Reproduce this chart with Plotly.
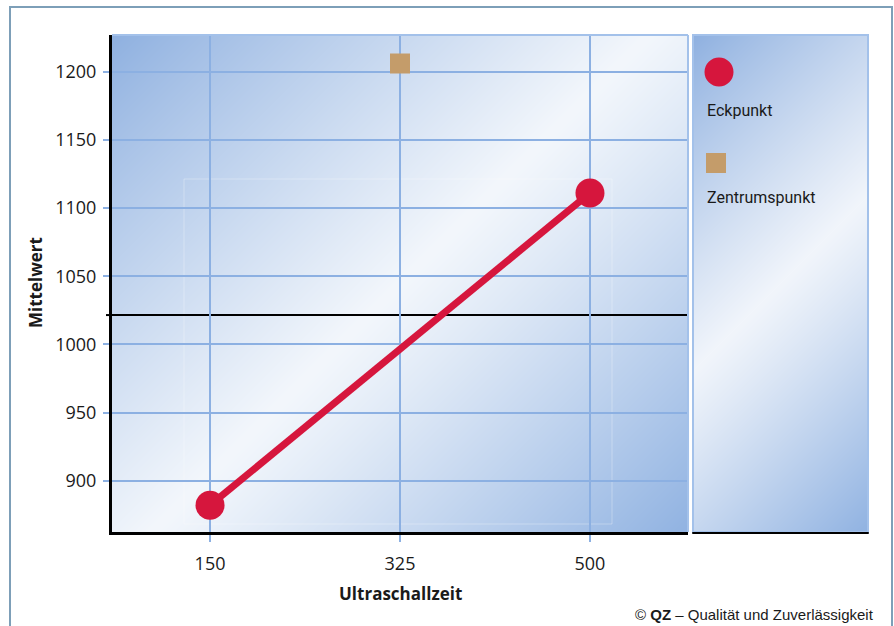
import base64
import struct
import zlib

import numpy as np
import plotly.graph_objects as go

# ---------------- data ----------------
series_names = ["Eckpunkt", "Zentrumspunkt"]
eck_x = [150, 500]
eck_y = [882, 1111]
center_x = [325]
center_y = [1206]
mean_value = 1021.5
x_tick_vals = [150, 325, 500]
y_tick_vals = [900, 950, 1000, 1050, 1100, 1150, 1200]
x_title = "Ultraschallzeit"
y_title = "Mittelwert"
credit = "© <b>QZ</b> – Qualität und Zuverlässigkeit"

# ---------------- geometry helpers ----------------
W, H = 894, 626
ML, MR, MT, MB = 112, 26, 35, 94
PW = W - ML - MR
PH = H - MT - MB


def px(xp):
    return (xp - ML) / PW


def py(yp):
    return (H - MB - yp) / PH


PLOT_RIGHT = 688
LEG_LEFT = 693


def png_uri(arr):
    h, w, _ = arr.shape
    raw = b"".join(b"\x00" + arr[i].tobytes() for i in range(h))

    def chunk(tag, data):
        c = struct.pack(">I", len(data)) + tag + data
        return c + struct.pack(">I", zlib.crc32(tag + data) & 0xFFFFFFFF)

    png = b"\x89PNG\r\n\x1a\n"
    png += chunk(b"IHDR", struct.pack(">IIBBBBB", w, h, 8, 2, 0, 0, 0))
    png += chunk(b"IDAT", zlib.compress(raw, 9))
    png += chunk(b"IEND", b"")
    return "data:image/png;base64," + base64.b64encode(png).decode()


def gradient(w, h, c0, cm, c1):
    xx = np.arange(w)[None, :]
    yy = np.arange(h)[:, None]
    t = (xx + yy) / float(w + h - 2)
    c0, cm, c1 = (np.array(c, dtype=float) for c in (c0, cm, c1))
    a = np.clip(t / 0.5, 0, 1)[..., None]
    b = np.clip((t - 0.5) / 0.5, 0, 1)[..., None]
    a = a ** 0.9
    b = b ** 1.1
    col = np.where(t[..., None] <= 0.5, c0 + (cm - c0) * a, cm + (c1 - cm) * b)
    return np.clip(col, 0, 255).astype(np.uint8)


plot_img = gradient(PLOT_RIGHT - ML, PH, (142, 176, 224), (243, 247, 252), (145, 179, 226))
leg_img = gradient(W - MR - LEG_LEFT, PH, (142, 176, 224), (241, 245, 251), (145, 179, 226))

GRID = "#8cb0e2"
RED = "#d6163d"
TAN = "#c49c6a"
TXT = "#1a1a1a"
TICKFONT = dict(family="Open Sans, Noto Sans, sans-serif", size=18, color=TXT)
LEGFONT = dict(family="Roboto, Open Sans, sans-serif", size=16, color=TXT)
TITLEFONT = dict(family="Open Sans, sans-serif", size=17, color=TXT)

fig = go.Figure()
fig.add_trace(go.Scatter(
    x=eck_x, y=eck_y, mode="lines+markers", name=series_names[0],
    line=dict(color=RED, width=7),
    marker=dict(size=29, color=RED),
    showlegend=False,
))
fig.add_trace(go.Scatter(
    x=center_x, y=center_y, mode="markers", name=series_names[1],
    marker=dict(size=20, color=TAN, symbol="square"),
    showlegend=False,
))

shapes = [
    # faint inner highlight frame
    dict(type="rect", xref="paper", yref="paper", x0=px(184), x1=px(612), y0=py(524), y1=py(179),
         line=dict(color="rgba(255,255,255,0.3)", width=1), layer="below"),
    # mean line
    dict(type="line", xref="x domain", yref="y", x0=0, x1=1, y0=mean_value, y1=mean_value,
         line=dict(color="black", width=2), layer="below"),
    dict(type="line", xref="paper", yref="y", x0=px(106), x1=0, y0=mean_value, y1=mean_value,
         line=dict(color="black", width=2)),
    # plot frame top/right (light blue)
    dict(type="line", xref="paper", yref="paper", x0=0, x1=px(PLOT_RIGHT), y0=1, y1=1,
         line=dict(color="#a3c1ea", width=2)),
    dict(type="line", xref="paper", yref="paper", x0=px(PLOT_RIGHT), x1=px(PLOT_RIGHT), y0=0, y1=1,
         line=dict(color="#a3c1ea", width=2)),
    # legend panel frame
    dict(type="rect", xref="paper", yref="paper", x0=px(LEG_LEFT), x1=1, y0=0, y1=1,
         line=dict(color="#a3c1ea", width=2)),
    dict(type="line", xref="paper", yref="paper", x0=px(LEG_LEFT) - 0.001, x1=1.001, y0=py(533), y1=py(533),
         line=dict(color="black", width=2)),
    # legend symbols
    dict(type="circle", xref="paper", yref="paper", x0=px(704.5), x1=px(733.5), y0=py(86.5), y1=py(57.5),
         fillcolor=RED, line=dict(width=0)),
    dict(type="rect", xref="paper", yref="paper", x0=px(706), x1=px(726), y0=py(173), y1=py(153),
         fillcolor=TAN, line=dict(width=0)),
    # outer frame
    dict(type="rect", xref="paper", yref="paper", x0=px(10), x1=px(892), y0=py(660), y1=py(7),
         line=dict(color="#7d9fb8", width=2)),
]

annotations = [
    dict(text=series_names[0], xref="paper", yref="paper", x=px(705), y=py(110),
         xanchor="left", yanchor="middle", showarrow=False, font=LEGFONT),
    dict(text=series_names[1], xref="paper", yref="paper", x=px(705), y=py(197),
         xanchor="left", yanchor="middle", showarrow=False, font=LEGFONT),
    dict(text="<b>" + x_title + "</b>", xref="paper", yref="paper", x=px(400), y=py(593),
         xanchor="center", yanchor="middle", showarrow=False, font=TITLEFONT),
    dict(text="<b>" + y_title + "</b>", xref="paper", yref="paper", x=px(35), y=py(283),
         xanchor="center", yanchor="middle", showarrow=False, textangle=-90, font=TITLEFONT),
    dict(text=credit, xref="paper", yref="paper", x=px(876), y=py(614),
         xanchor="right", yanchor="middle", showarrow=False,
         font=dict(family="Liberation Sans, Arial, sans-serif", size=15, color=TXT)),
]

images = [
    dict(source=png_uri(plot_img), xref="paper", yref="paper", x=0, y=1,
         sizex=px(PLOT_RIGHT), sizey=1, sizing="stretch", xanchor="left", yanchor="top",
         layer="below"),
    dict(source=png_uri(leg_img), xref="paper", yref="paper", x=px(LEG_LEFT), y=1,
         sizex=1 - px(LEG_LEFT), sizey=1, sizing="stretch", xanchor="left", yanchor="top",
         layer="below"),
]

fig.update_layout(
    width=W, height=H,
    margin=dict(l=ML, r=MR, t=MT, b=MB),
    paper_bgcolor="white",
    plot_bgcolor="rgba(0,0,0,0)",
    shapes=shapes,
    annotations=annotations,
    images=images,
    showlegend=False,
    xaxis=dict(
        domain=[0, px(PLOT_RIGHT)], range=[59.7, 590.3],
        tickvals=x_tick_vals, ticktext=[str(v) for v in x_tick_vals],
        showgrid=True, gridcolor=GRID, gridwidth=2, zeroline=False,
        ticks="outside", ticklen=7, tickwidth=2, tickcolor=GRID,
        showline=True, linecolor="black", linewidth=3,
        tickfont=TICKFONT, ticklabelstandoff=6,
    ),
    yaxis=dict(
        range=[862.4, 1226.9],
        tickvals=y_tick_vals, ticktext=[str(v) for v in y_tick_vals],
        showgrid=True, gridcolor=GRID, gridwidth=2, zeroline=False,
        ticks="outside", ticklen=6, tickwidth=2, tickcolor=GRID,
        showline=True, linecolor="black", linewidth=3,
        tickfont=TICKFONT, ticklabelstandoff=3,
    ),
)

fig.write_html("out.html", config={"displayModeBar": False},
               post_script="document.body.style.margin='0';")
